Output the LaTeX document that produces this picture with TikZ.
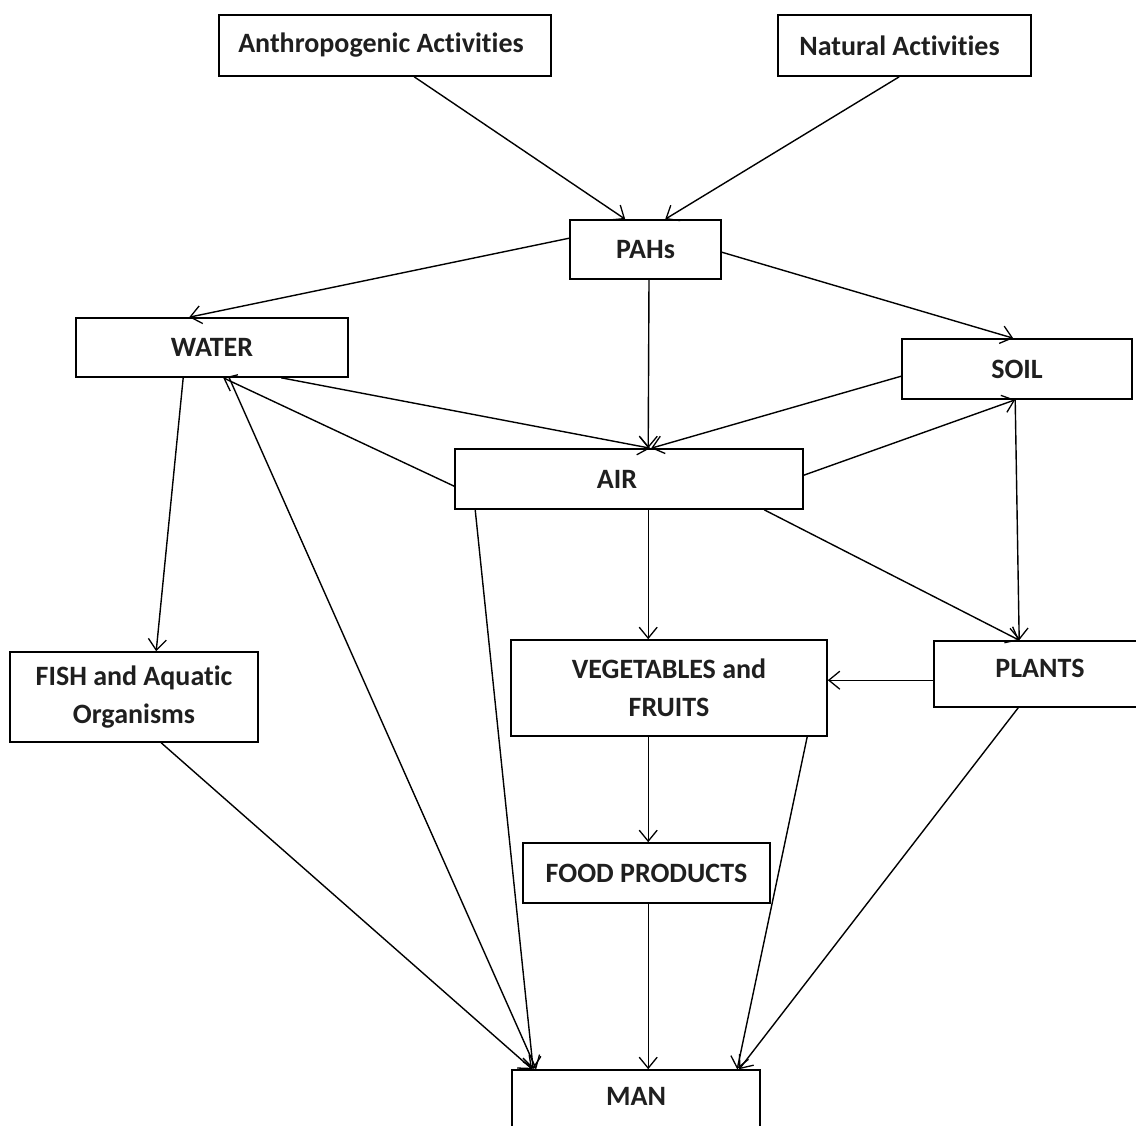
\documentclass[tikz,border=0pt]{standalone}
\usepackage{fontspec}
\setmainfont{Carlito}[Ligatures=NoCommon]
\usetikzlibrary{arrows.meta}
\tikzset{
  box/.style={draw, line width=1.6pt, rectangle, inner sep=0pt, align=center,
    font=\bfseries\fontsize{28}{38}\selectfont, text=black!88},
  arr/.style={line width=1.4pt, -{Straight Barb[length=11pt,width=18pt,line width=1.3pt]}},
}
\begin{document}
\begin{tikzpicture}[x=1pt,y=-1pt]
\useasboundingbox (0,0) rectangle (1136,1126);
\clip (0,0) rectangle (1136,1126);
\node[box, minimum width=332pt, minimum height=61pt] (anth) at (385,45.5) {Anthropogenic Activities\hspace*{8pt}};
\node[box, minimum width=253pt, minimum height=61pt] (nat) at (904.5,45.5) {Natural Activities\hspace*{10pt}};
\node[box, minimum width=151pt, minimum height=59pt] (pahs) at (645.5,249.5) {PAHs};
\node[box, minimum width=272pt, minimum height=59pt] (water) at (212,347.5) {WATER};
\node[box, minimum width=230pt, minimum height=60pt] (soil) at (1017,369) {SOIL};
\node[box, minimum width=348pt, minimum height=60pt] (air) at (629,479) {AIR\hspace*{24pt}};
\node[box, minimum width=248pt, minimum height=90pt] (fish) at (134,697) {FISH and Aquatic\\Organisms};
\node[box, minimum width=316pt, minimum height=96pt] (veg) at (669,688) {VEGETABLES and\\FRUITS};
\node[box, minimum width=212pt, minimum height=66pt] (plants) at (1040,674) {PLANTS\\[-26pt]\mbox{}};
\node[box, minimum width=247pt, minimum height=60pt] (food) at (646.5,873) {FOOD PRODUCTS};
\node[box, minimum width=248pt, minimum height=60pt] (man) at (636,1100) {MAN\\[-30pt]\mbox{}};

\draw[arr] ([xshift=196pt]anth.south west) -- ([xshift=56pt]pahs.north west);
\draw[arr] ([xshift=122pt]nat.south west) -- ([xshift=96pt]pahs.north west);
\draw[arr] ([yshift=-19pt]pahs.north west) -- ([xshift=114pt]water.north west);
\draw[arr] ([yshift=-33pt]pahs.north east) -- ([xshift=112pt]soil.north west);
\draw[arr] ([xshift=3.5pt]pahs.south) -- ([xshift=194pt]air.north west);
\draw[arr] ([xshift=206pt]water.south west) -- ([xshift=196pt]air.north west);
\draw[arr] ([yshift=-38pt]soil.north west) -- ([xshift=197pt]air.north west);
\draw[arr] ([yshift=-38pt]air.north west) -- ([xshift=148pt]water.south west);
\draw[arr] ([yshift=-27pt]air.north east) -- ([xshift=114pt]soil.south west);
\draw[arr] ([xshift=108pt]water.south west) -- ([xshift=147pt]fish.north west);
\draw[arr] ([xshift=154pt]water.south west) -- ([xshift=25pt]man.north west);
\draw[arr] ([xshift=21pt]air.south west) -- ([xshift=22pt]man.north west);
\draw[arr] ([xshift=194pt]air.south west) -- ([xshift=138pt]veg.north west);
\draw[arr] ([xshift=310pt]air.south west) -- ([xshift=86pt]plants.north west);
\draw[arr] ([xshift=114pt]soil.south west) -- ([xshift=86pt]plants.north west);
\draw[arr] ([yshift=-40pt]plants.north west) -- ([yshift=-41pt]veg.north east);
\draw[arr] ([xshift=138pt]veg.south west) -- ([xshift=126pt]food.north west);
\draw[arr] ([xshift=126pt]food.south west) -- ([xshift=137pt]man.north west);
\draw[arr] ([xshift=297pt]veg.south west) -- ([xshift=226pt]man.north west);
\draw[arr] ([xshift=85pt]plants.south west) -- ([xshift=228pt]man.north west);
\draw[arr] ([xshift=152pt]fish.south west) -- ([xshift=21pt]man.north west);
\end{tikzpicture}
\end{document}
